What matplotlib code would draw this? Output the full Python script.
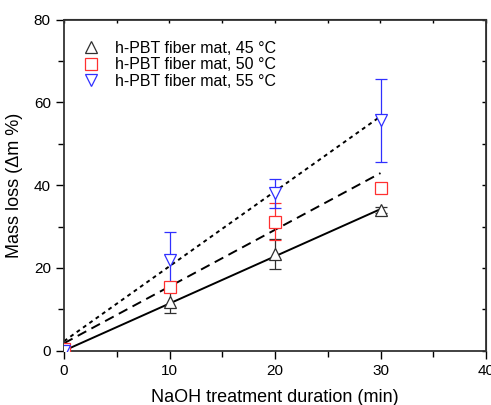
import matplotlib
matplotlib.use("Agg")
import matplotlib.pyplot as plt
from matplotlib.ticker import MultipleLocator
from matplotlib.lines import Line2D

plt.rcParams['font.family'] = ['Liberation Sans', 'DejaVu Sans']

time_min = [0, 10, 20, 30]

labels = ["h-PBT fiber mat, 45 \u00b0C", "h-PBT fiber mat, 50 \u00b0C", "h-PBT fiber mat, 55 \u00b0C"]
loss_45 = [0.0, 11.8, 23.4, 34.0]
err_45 = [0.0, 2.7, 3.6, 0.8]
loss_50 = [0.5, 15.5, 31.2, 39.2]
err_50 = [0.0, 1.0, 4.5, 0.7]
loss_55 = [0.0, 22.0, 38.0, 55.7]
err_55 = [0.0, 6.7, 3.5, 10.0]

fit_intercepts = [0.0, 1.8, 2.3]
fit_slopes = [1.14, 1.37, 1.81]
fit_range = [0, 30]

colors = ["#303030", "#ff3030", "#3030ff"]
markers = ["^", "s", "v"]
linestyles = ["-", (0, (5, 3)), (0, (2, 2))]

fig = plt.figure(figsize=(4.91, 4.05), dpi=100)
ax = fig.add_axes([64/491, 1 - 350.7/405, (486-64)/491, (350.7-19.5)/405])

series = [loss_45, loss_50, loss_55]
errs = [err_45, err_50, err_55]
handles = []
for i in range(3):
    ax.errorbar(time_min, series[i], yerr=errs[i], fmt=markers[i], mfc="white",
                mec=colors[i], ecolor=colors[i], color=colors[i], ms=8, mew=0.9,
                elinewidth=0.9, capsize=4, capthick=0.9, zorder=3)
    xs = fit_range
    ys = [fit_intercepts[i] + fit_slopes[i] * x for x in xs]
    ax.plot(xs, ys, color="black", lw=1.4, ls=linestyles[i], zorder=2)
    handles.append(Line2D([], [], ls="none", marker=markers[i], mfc="white",
                          mec=colors[i], ms=8, mew=0.9))

ax.set_xlim(0, 40)
ax.set_ylim(0, 80)
ax.xaxis.set_major_locator(MultipleLocator(10))
ax.xaxis.set_minor_locator(MultipleLocator(5))
ax.yaxis.set_major_locator(MultipleLocator(20))
ax.yaxis.set_minor_locator(MultipleLocator(10))
ax.tick_params(which="both", direction="out", top=False, right=False, labelsize=11, width=1.0)
ax.tick_params(which="major", length=6)
ax.tick_params(which="minor", length=4)
for sp in ax.spines.values():
    sp.set_linewidth(1.3)
    sp.set_color("#333333")

axt = ax.secondary_xaxis("top")
axt.xaxis.set_major_locator(MultipleLocator(10))
axt.xaxis.set_minor_locator(MultipleLocator(5))
axt.tick_params(which="both", direction="in", labeltop=False, length=3, width=1.0)
axr = ax.secondary_yaxis("right")
axr.yaxis.set_major_locator(MultipleLocator(20))
axr.yaxis.set_minor_locator(MultipleLocator(10))
axr.tick_params(which="both", direction="in", labelright=False, length=3, width=1.0)

ax.set_xlabel("NaOH treatment duration (min)", fontsize=13, labelpad=8)
ax.set_ylabel("Mass loss (\u0394m %)", fontsize=13, labelpad=8)

ax.legend(handles, labels, loc="upper left", frameon=False, fontsize=11.5,
          handlelength=1.0, handletextpad=1.0, labelspacing=0.1,
          borderaxespad=0.0, bbox_to_anchor=(0.03, 0.955))

fig.savefig("out.png", dpi=100)
